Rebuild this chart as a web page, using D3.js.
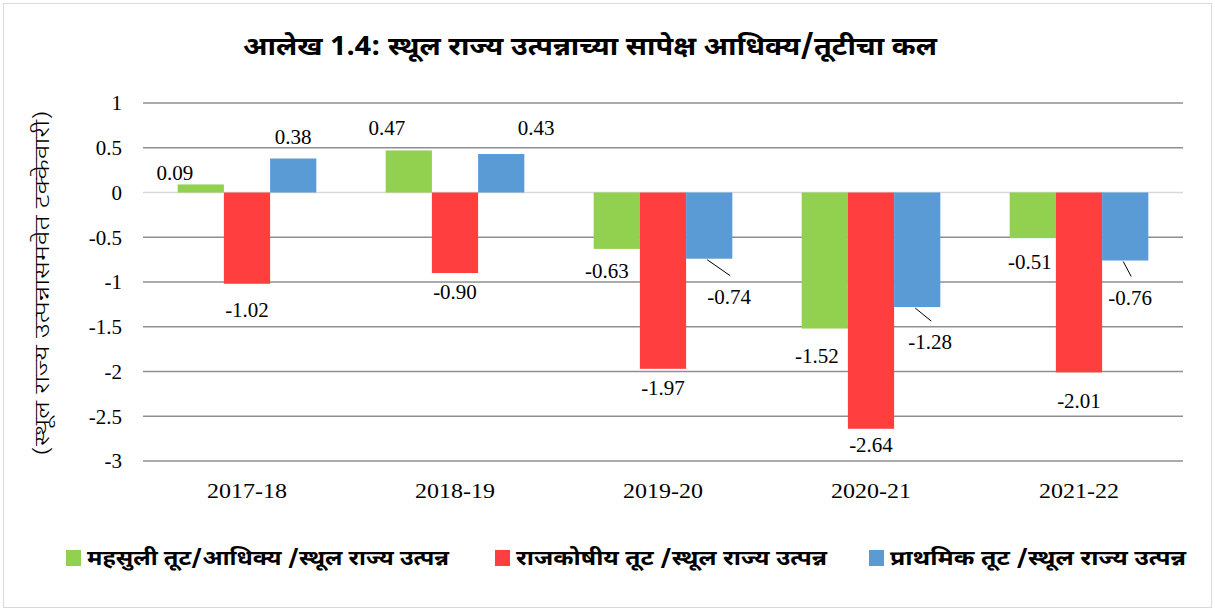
<!DOCTYPE html>
<html>
<head>
<meta charset="utf-8">
<script src="https://cdn.jsdelivr.net/npm/d3@7"></script>
<style>
  body { margin: 0; background: #fff; }
  svg text { fill: #000; }
  .num { font-family: "Liberation Serif", "Times New Roman", serif; }
  .dev { font-family: "Noto Sans Devanagari", "Lohit Devanagari", "Mangal", "Noto Sans", sans-serif; }
</style>
</head>
<body>
<svg id="chart"></svg>
<script>
const width = 1215, height = 612;

// data
const years = ["2017-18", "2018-19", "2019-20", "2020-21", "2021-22"];
const seriesNames = [
    "महसुली तूट/आधिक्य /स्थूल राज्य उत्पन्न",
    "राजकोषीय तूट /स्थूल राज्य उत्पन्न",
    "प्राथमिक तूट /स्थूल राज्य उत्पन्न"
];
const revenue = [0.09, 0.47, -0.63, -1.52, -0.51];
const fiscal = [-1.02, -0.90, -1.97, -2.64, -2.01];
const primary = [0.38, 0.43, -0.74, -1.28, -0.76];
const yTicks = [1, 0.5, 0, -0.5, -1, -1.5, -2, -2.5, -3];
const colors = ["#92d050", "#ff3f3f", "#5b9bd5"];

// label nudges (Excel labels were dragged by hand), [dx, dy, leader]
const labelNudge = [
    [[-26, 10], [-22, -1], [-10, 0], [-8, 5], [-3, 2]],
    [[0, 4], [0, -3], [0, -3], [0, -6], [0, 6]],
    [[0, 0], [35, -4], [20, 16, true], [13, 13, true], [5, 15, true]]
];

const allSeries = [revenue, fiscal, primary];

const svg = d3.select("#chart")
    .attr("width", width)
    .attr("height", height);

// outer border
svg.append("rect")
    .attr("x", 3.5).attr("y", 3.5)
    .attr("width", width - 7).attr("height", height - 8)
    .attr("fill", "none")
    .attr("stroke", "#d9d9d9");

const plot = { left: 143, right: 1183, top: 103, bottom: 461 };

const x = d3.scaleBand()
    .domain(years)
    .range([plot.left, plot.right])
    .paddingInner(0)
    .paddingOuter(0);

const y = d3.scaleLinear()
    .domain([-3, 1])
    .range([plot.bottom, plot.top]);

// bar width: Excel gap width 150% -> 3 bars + 1.5 bar gap per band
const barW = x.bandwidth() / 4.5;

// gridlines
svg.append("g")
    .selectAll("line")
    .data(yTicks)
    .join("line")
    .attr("x1", plot.left).attr("x2", plot.right)
    .attr("y1", d => y(d)).attr("y2", d => y(d))
    .attr("stroke", d => d === 0 ? "#d9d9d9" : "#8f8f8f")
    .attr("stroke-width", 1.5);

// y tick labels
svg.append("g")
    .selectAll("text")
    .data(yTicks)
    .join("text")
    .attr("class", "num")
    .attr("x", 122)
    .attr("y", d => y(d))
    .attr("dy", "0.35em")
    .attr("text-anchor", "end")
    .style("font-size", "21px")
    .text(d => String(d));

// x labels (condensed in the reference)
svg.append("g")
    .selectAll("text")
    .data(years)
    .join("text")
    .attr("class", "num")
    .attr("x", d => x(d) + x.bandwidth() / 2 - 40)
    .attr("y", 490)
    .attr("dy", "0.35em")
    .attr("textLength", 80)
    .attr("lengthAdjust", "spacingAndGlyphs")
    .style("font-size", "22px")
    .text(d => d);

// bars
const barCx = (i, s) => x(years[i]) + x.bandwidth() / 2 + (s - 1) * barW;

allSeries.forEach((vals, s) => {
    const g = svg.append("g");
    g.selectAll("rect")
        .data(vals)
        .join("rect")
        .attr("x", (d, i) => barCx(i, s) - barW / 2)
        .attr("y", d => y(Math.max(0, d)))
        .attr("width", barW)
        .attr("height", d => Math.abs(y(d) - y(0)))
        .attr("fill", colors[s]);

    const pos = (d, i) => {
        const n = labelNudge[s][i];
        const end = y(d);
        return {
            x: barCx(i, s) + n[0],
            y: (d >= 0 ? end - 22 : end + 22) + n[1],
            leader: n[2]
        };
    };

    // leader lines
    g.selectAll("line")
        .data(vals.map((d, i) => ({ d, i })).filter(o => labelNudge[s][o.i][2]))
        .join("line")
        .attr("x1", o => barCx(o.i, s) - 2)
        .attr("y1", o => y(o.d) + 1)
        .attr("x2", o => pos(o.d, o.i).x + 1)
        .attr("y2", o => pos(o.d, o.i).y - 21)
        .attr("stroke", "#000")
        .attr("stroke-width", 1);

    g.selectAll("text")
        .data(vals)
        .join("text")
        .attr("class", "num")
        .attr("x", (d, i) => pos(d, i).x)
        .attr("y", (d, i) => pos(d, i).y)
        .attr("dy", "0.35em")
        .attr("text-anchor", "middle")
        .style("font-size", "21px")
        .text(d => d.toFixed(2));
});

// title (reference font is a condensed Devanagari, so stretch to its width)
svg.append("text")
    .attr("class", "dev")
    .attr("x", 590)
    .attr("y", 46)
    .attr("dy", "0.35em")
    .attr("text-anchor", "middle")
    .attr("textLength", 694)
    .attr("lengthAdjust", "spacingAndGlyphs")
    .style("font-size", "26px")
    .style("font-weight", "bold")
    .text("आलेख 1.4: स्थूल राज्य उत्पन्नाच्या सापेक्ष आधिक्य/तूटीचा कल");

// y axis title
svg.append("text")
    .attr("class", "dev")
    .attr("transform", "translate(42,283) rotate(-90)")
    .attr("dy", "0.35em")
    .attr("text-anchor", "middle")
    .attr("textLength", 345)
    .attr("lengthAdjust", "spacingAndGlyphs")
    .style("font-size", "20px")
    .style("font-weight", "300")
    .text("(स्थूल राज्य उत्पन्नासमवेत टक्केवारी)");

// legend
const legendX = [66, 495, 869];
const legendLen = [362, 311, 296];
const legend = svg.append("g")
    .selectAll("g")
    .data(seriesNames)
    .join("g")
    .attr("transform", (d, i) => `translate(${legendX[i]},558)`);

legend.append("rect")
    .attr("x", 0).attr("y", -8)
    .attr("width", 15).attr("height", 16)
    .attr("fill", (d, i) => colors[i]);

legend.append("text")
    .attr("class", "dev")
    .attr("x", 21)
    .attr("dy", "0.35em")
    .attr("textLength", (d, i) => legendLen[i])
    .attr("lengthAdjust", "spacingAndGlyphs")
    .style("font-size", "20px")
    .style("font-weight", "bold")
    .text(d => d);
</script>
</body>
</html>
